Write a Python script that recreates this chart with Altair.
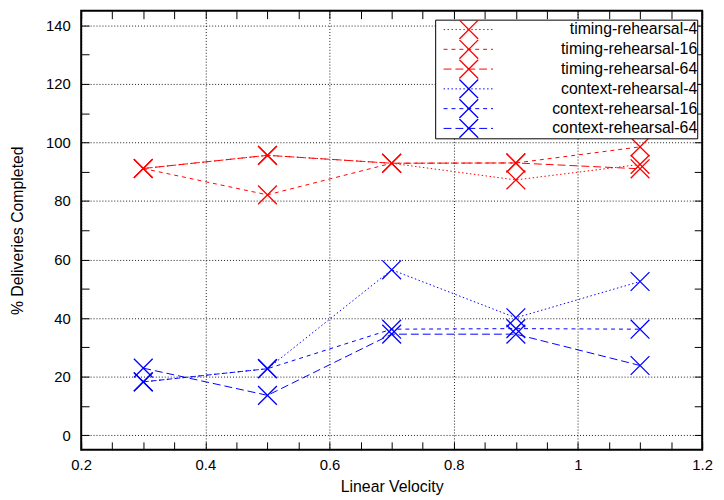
import altair as alt
import pandas as pd

# ---- data ----
x_values = [0.3, 0.5, 0.7, 0.9, 1.1]
series_names = ["timing-rehearsal-4", "timing-rehearsal-16", "timing-rehearsal-64",
                "context-rehearsal-4", "context-rehearsal-16", "context-rehearsal-64"]
timing_4 = [91.1, 95.6, 92.9, 87.2, 92.5]
timing_16 = [91.1, 82.1, 92.9, 93.0, 98.5]
timing_64 = [91.1, 95.6, 92.9, 93.0, 91.0]
context_4 = [18.2, 22.7, 56.5, 40.1, 52.5]
context_16 = [18.2, 22.7, 36.2, 36.4, 36.2]
context_64 = [22.9, 13.6, 34.5, 34.5, 23.8]
x_ticks = [0.2, 0.4, 0.6, 0.8, 1.0, 1.2]
y_ticks = [0, 20, 40, 60, 80, 100, 120, 140]

series_values = [timing_4, timing_16, timing_64, context_4, context_16, context_64]
series_colors = ["#ff0000", "#ff0000", "#ff0000", "#0000ff", "#0000ff", "#0000ff"]
series_dashes = [[1.5, 2.5], [4, 4], [8, 4], [1.5, 2.5], [4, 4], [8, 4]]
marker_keys = ["marker " + n for n in series_names]

rows = []
for name, key, vals in zip(series_names, marker_keys, series_values):
    for xv, yv in zip(x_values, vals):
        rows.append({"series": name, "marker": key, "x": xv, "y": yv})
df = pd.DataFrame(rows)

FONT = "Liberation Sans"
X_PATH = "M-1,-1L1,1M-1,1L1,-1"
xs = alt.Scale(domain=[0.2, 1.2], nice=False, zero=False)
ys = alt.Scale(domain=[-5, 145], nice=False, zero=False)

x_main = alt.Axis(values=x_ticks, format="~g", title="Linear Velocity", grid=True,
                  gridDash=[1, 2], gridColor="black", gridOpacity=0.9, ticks=False,
                  domain=False, labelPadding=8, labelFlush=False, titlePadding=6)
y_main = alt.Axis(values=y_ticks, title="% Deliveries Completed", grid=True,
                  gridDash=[1, 2], gridColor="black", gridOpacity=0.9, ticks=False,
                  domain=False, labelPadding=11, titlePadding=20)

common_legend = dict(orient="none", legendX=358, legendY=9, title=None,
                     labelAlign="right", labelLimit=400, labelFontSize=16,
                     labelFont=FONT, padding=0, rowPadding=0, clipHeight=20)

# line part of the key (dashed line, labels, white box)
line_legend = alt.Legend(symbolType="M-1,0H1", symbolSize=2500, symbolStrokeWidth=1,
                         symbolFillColor="transparent", symbolOffset=8,
                         labelOffset=206, labelColor="black",
                         fillColor="white", strokeColor="black", **common_legend)
# marker part of the key (solid X drawn over the line, no labels of its own)
marker_legend = alt.Legend(symbolType=X_PATH, symbolSize=361, symbolStrokeWidth=1.3,
                           symbolFillColor="transparent", symbolOffset=23.5,
                           labelOffset=237, labelExpr="''", **common_legend)

base = alt.Chart(df)
lines = base.mark_line(strokeWidth=1).encode(
    x=alt.X("x:Q", scale=xs, axis=x_main),
    y=alt.Y("y:Q", scale=ys, axis=y_main),
    color=alt.Color("series:N", scale=alt.Scale(domain=series_names, range=series_colors),
                    legend=line_legend),
    strokeDash=alt.StrokeDash("series:N",
                              scale=alt.Scale(domain=series_names, range=series_dashes),
                              legend=line_legend),
)
points = base.mark_point(shape=X_PATH, size=361, filled=False,
                         strokeWidth=1.3, opacity=1).encode(
    x=alt.X("x:Q", scale=xs, axis=x_main),
    y=alt.Y("y:Q", scale=ys, axis=y_main),
    stroke=alt.Stroke("marker:N", scale=alt.Scale(domain=marker_keys, range=series_colors),
                      legend=marker_legend),
)
main = alt.layer(lines, points)


def tick_axis(orient):
    return alt.Axis(orient=orient, offset=-8, labels=False, domain=False, grid=False,
                    ticks=True, tickSize=8, tickColor="black", tickWidth=1, title=None)


ticks_in_a = base.mark_point(opacity=0).encode(
    x=alt.X("x:Q", scale=xs, axis=tick_axis("bottom")),
    y=alt.Y("y:Q", scale=ys, axis=tick_axis("left")),
)
ticks_in_b = base.mark_point(opacity=0).encode(
    x=alt.X("x:Q", scale=xs, axis=tick_axis("top")),
    y=alt.Y("y:Q", scale=ys, axis=tick_axis("right")),
)

chart = alt.layer(main, ticks_in_a, ticks_in_b).resolve_axis(
    x="independent", y="independent"
).properties(
    width=628, height=444,
    autosize=alt.AutoSizeParams(type="none"),
    padding={"left": 74, "top": 0, "right": 14, "bottom": 48},
).configure_view(
    stroke="black", strokeWidth=2
).configure_axis(
    labelFont=FONT, titleFont=FONT, labelFontSize=15, titleFontSize=16,
    titleFontWeight="normal", labelColor="black", titleColor="black",
)

chart.save("out.html", embed_options={"renderer": "svg", "actions": False})
